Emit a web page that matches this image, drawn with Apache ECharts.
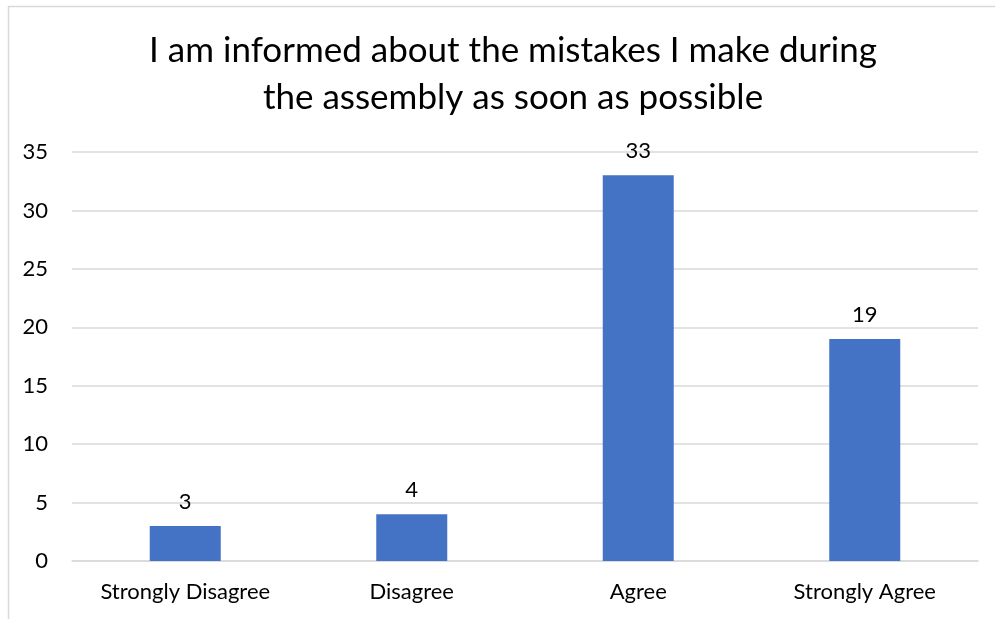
<!DOCTYPE html>
<html>
<head>
<meta charset="utf-8">
<script src="https://cdn.jsdelivr.net/npm/echarts@6/dist/echarts.min.js"></script>
<style>
  html, body { margin: 0; padding: 0; background: #fff; }
  #chart { width: 995px; height: 619px; }
</style>
</head>
<body>
<div id="chart"></div>
<script>
// Survey responses to a single statement
const categories = ['Strongly Disagree', 'Disagree', 'Agree', 'Strongly Agree'];
const responses = [3, 4, 33, 19];
const yTicks = [0, 5, 10, 15, 20, 25, 30, 35];

const FONT = 'Lato, "Open Sans", sans-serif';

const chart = echarts.init(document.getElementById('chart'), null, { renderer: 'canvas' });
chart.setOption({
  backgroundColor: '#ffffff',
  animation: false,
  graphic: [{
    type: 'rect',
    shape: { x: 8.5, y: 6.5, width: 1000, height: 700 },
    style: { fill: 'none', stroke: '#d9d9d9', lineWidth: 1.5 },
    silent: true
  }],
  title: {
    text: 'I am informed about the mistakes I make during\nthe assembly as soon as possible',
    left: 508,
    textAlign: 'center',
    top: 22,
    textStyle: {
      fontFamily: FONT,
      fontSize: 35,
      fontWeight: 'normal',
      color: '#000000',
      lineHeight: 47
    }
  },
  grid: { left: 72, right: 17, top: 152, bottom: 58, containLabel: false },
  xAxis: {
    type: 'category',
    data: categories,
    axisLine: { show: true, lineStyle: { color: '#d9d9d9', width: 1.5 } },
    axisTick: { show: false },
    axisLabel: { fontFamily: FONT, fontSize: 22, color: '#000000', margin: 20 }
  },
  yAxis: {
    type: 'value',
    min: yTicks[0],
    max: yTicks[yTicks.length - 1],
    interval: 5,
    axisLine: { show: false },
    axisTick: { show: false },
    axisLabel: { fontFamily: FONT, fontSize: 22, color: '#000000', margin: 24 },
    splitLine: { lineStyle: { color: '#d9d9d9', width: 1.5 } }
  },
  series: [{
    type: 'bar',
    data: responses,
    barWidth: 71,
    itemStyle: { color: '#4472C4' },
    label: {
      show: true,
      position: 'top',
      distance: 13,
      fontFamily: FONT,
      fontSize: 22,
      color: '#000000'
    }
  }]
});
</script>
</body>
</html>
